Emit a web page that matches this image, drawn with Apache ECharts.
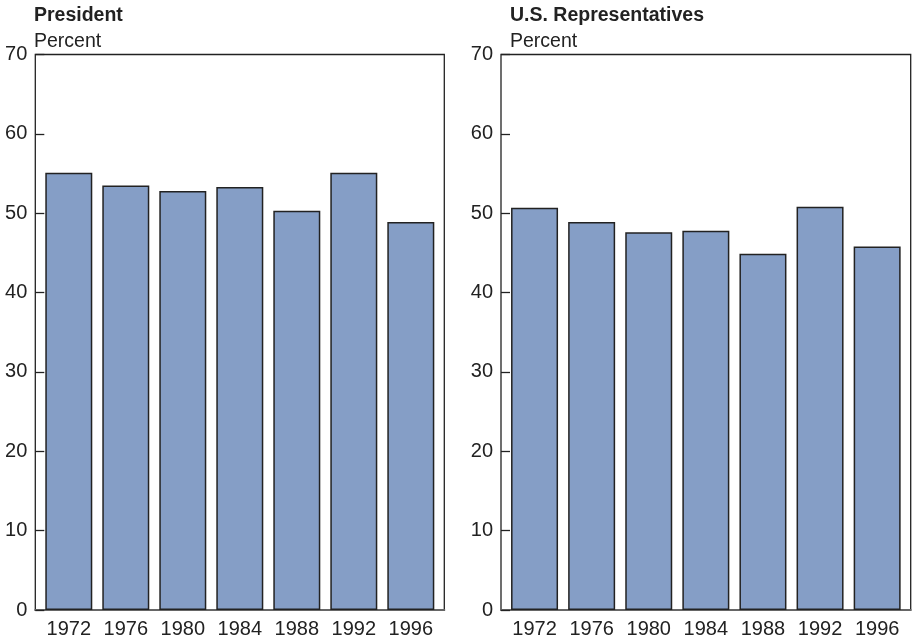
<!DOCTYPE html>
<html>
<head>
<meta charset="utf-8">
<script src="https://cdn.jsdelivr.net/npm/echarts@6/dist/echarts.min.js"></script>
<style>
  html, body { margin: 0; padding: 0; background: #fff; }
  #chart { width: 914px; height: 640px; }
</style>
</head>
<body>
<div id="chart"></div>
<script>
const years = [1972, 1976, 1980, 1984, 1988, 1992, 1996]
const president = [55.1, 53.5, 52.8, 53.3, 50.3, 55.1, 48.9]
const representatives = [50.7, 48.9, 47.6, 47.8, 44.9, 50.8, 45.8]

const FONT = '"Liberation Sans", Arial, Helvetica, sans-serif'
const BAR = '#859ec6'
const INK = '#222'

const chart = echarts.init(document.getElementById('chart'))

function xAxisFor(gridIndex) {
  return {
    type: 'value', gridIndex,
    min: 1969.65, max: 1998.35,
    axisLine: { show: true, lineStyle: { color: '#666', width: 2 } },
    axisTick: { show: false },
    splitLine: { show: false },
    axisLabel: {
      customValues: years, color: INK, fontSize: 20, fontFamily: FONT, margin: 9,
      formatter: v => String(v)
    }
  }
}

function yAxisFor(gridIndex) {
  return {
    type: 'value', gridIndex,
    min: 0, max: 70, interval: 10,
    axisLine: { show: false },
    axisTick: { show: true, inside: true, length: 9, lineStyle: { color: INK, width: 1.3 } },
    splitLine: { show: false },
    axisLabel: { color: INK, fontSize: 20, fontFamily: FONT, margin: 8, padding: [6, 0, 0, 0] }
  }
}

function barSeries(values, idx) {
  return {
    type: 'bar', xAxisIndex: idx, yAxisIndex: idx,
    barWidth: 47,
    data: years.map((y, i) => [y, values[i]]),
    itemStyle: { color: BAR, borderColor: INK, borderWidth: 1.5 },
    silent: true
  }
}

const titleStyle = (bold) => ({ fontFamily: FONT, fontSize: 19.5, fontWeight: bold ? 'bold' : 'normal', color: INK })

chart.setOption({
  animation: false,
  title: [
    { text: 'President', left: 34, top: 6, padding: 0, textStyle: titleStyle(true) },
    { text: 'Percent', left: 34, top: 32, padding: 0, textStyle: titleStyle(false) },
    { text: 'U.S. Representatives', left: 510, top: 6, padding: 0, textStyle: titleStyle(true) },
    { text: 'Percent', left: 510, top: 32, padding: 0, textStyle: titleStyle(false) }
  ],
  grid: [
    { left: 35.3, right: 469.7, top: 54.5, bottom: 30, show: true, borderColor: INK, borderWidth: 1.3, backgroundColor: 'transparent' },
    { left: 501, right: 3.3, top: 54.5, bottom: 30, show: true, borderColor: INK, borderWidth: 1.3, backgroundColor: 'transparent' }
  ],
  xAxis: [xAxisFor(0), xAxisFor(1)],
  yAxis: [yAxisFor(0), yAxisFor(1)],
  series: [barSeries(president, 0), barSeries(representatives, 1)]
})
</script>
</body>
</html>
